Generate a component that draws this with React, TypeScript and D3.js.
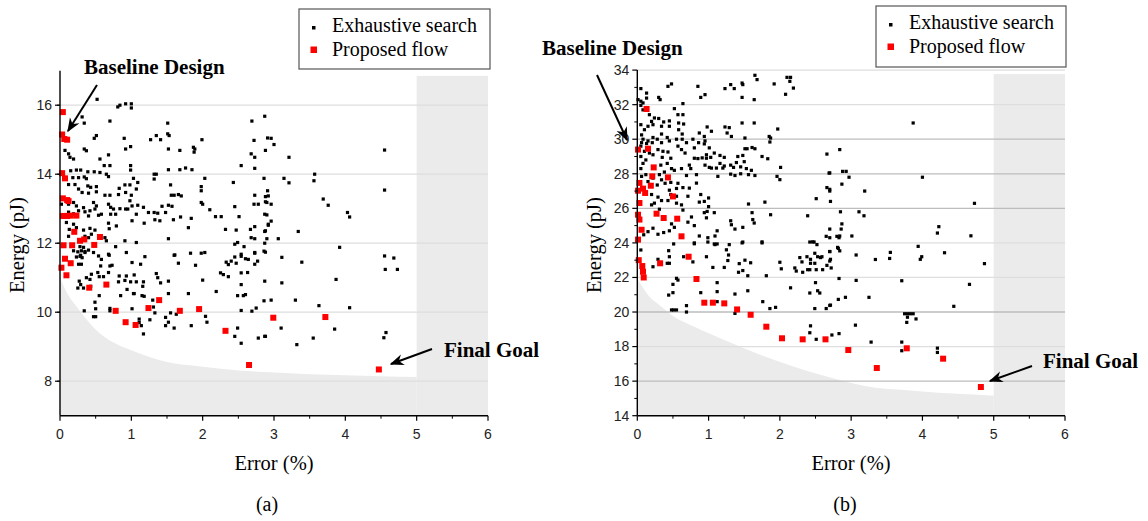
import * as d3 from 'd3';
import React from 'react';

// ---- data: [error (%), energy (pJ)] ----
const xTicks = [0, 1, 2, 3, 4, 5, 6];
const leftYTicks = [8, 10, 12, 14, 16];
const rightYTicks = [14, 16, 18, 20, 22, 24, 26, 28, 30, 32, 34];

// (a) exhaustive search
const leftSearch = [
  [0.52, 16.17], [0.81, 15.95], [0.84, 16.0], [0.92, 16.04], [1.0, 16.04], [1.0, 15.92],
  [0.31, 15.66], [0.34, 15.48], [0.7, 15.54], [1.51, 15.48], [1.51, 15.17], [1.53, 15.12],
  [1.35, 15.12], [1.27, 15.0], [1.41, 15.0], [0.51, 15.12], [0.48, 15.04], [0.9, 15.04], [1.99, 15.0],
  [2.69, 15.54], [2.87, 15.68], [2.72, 14.98], [2.91, 15.05], [2.96, 15.04],
  [0.92, 14.73], [0.99, 14.8], [0.34, 14.73], [0.37, 14.68],
  [0.07, 14.69], [0.12, 14.59], [0.14, 14.49], [0.19, 14.44],
  [1.52, 14.73], [1.68, 14.69], [1.87, 14.78], [1.89, 14.73], [1.88, 14.64], [2.88, 14.69], [2.68, 14.59], [2.73, 14.49],
  [0.56, 14.44], [0.68, 14.56], [0.62, 14.25], [0.7, 14.25], [0.99, 14.25], [0.99, 14.12],
  [1.52, 14.13], [1.68, 14.13], [1.76, 14.18], [1.85, 14.13], [2.54, 14.25], [2.73, 14.17], [2.86, 13.88], [2.43, 13.76], [2.03, 13.88],
  [1.32, 14.0], [1.35, 14.0], [1.32, 13.86],
  [0.15, 14.1], [0.23, 14.12], [0.29, 14.12], [0.39, 14.07], [0.48, 14.07], [0.56, 14.05],
  [0.18, 13.9], [0.26, 13.9], [0.34, 13.92], [0.37, 13.87], [0.65, 14.0], [0.68, 13.93], [1.03, 13.88], [1.09, 13.76],
  [0.91, 13.69], [0.98, 13.69], [0.83, 13.59], [0.92, 13.47], [1.07, 13.57], [1.55, 13.69], [1.98, 13.64], [1.98, 13.52],
  [0.12, 13.7], [0.21, 13.7], [0.39, 13.66], [0.43, 13.62], [0.51, 13.64],
  [0.26, 13.57], [0.31, 13.47], [0.4, 13.45], [0.51, 13.49],
  [0.63, 13.39], [0.7, 13.39], [0.82, 13.41], [1.0, 13.39], [0.98, 13.23],
  [1.56, 13.39], [1.6, 13.39], [1.66, 13.41], [1.7, 13.37], [2.73, 13.39], [2.88, 13.35], [2.91, 13.52],
  [1.98, 13.18], [2.0, 13.13], [2.45, 13.06], [2.72, 13.13], [2.78, 13.13], [2.88, 13.2],
  [0.02, 13.13], [0.12, 13.13], [0.19, 13.18], [0.23, 13.08], [0.33, 13.03],
  [0.47, 13.18], [0.51, 13.08], [0.49, 12.99], [0.68, 13.13], [0.71, 13.04], [0.75, 12.99], [0.84, 13.0], [0.92, 12.99],
  [1.09, 13.1], [1.17, 13.04], [1.24, 12.89], [1.32, 12.89], [1.37, 12.87], [1.43, 13.07], [1.52, 13.1], [1.57, 13.07], [1.48, 12.89],
  [2.1, 12.97], [2.18, 12.77], [2.26, 12.77], [2.51, 12.77], [2.87, 12.84],
  [0.12, 12.9], [0.19, 12.85], [0.26, 12.94], [0.35, 12.91], [0.42, 12.94], [0.4, 12.79],
  [0.54, 12.81], [0.58, 12.84], [0.71, 12.84], [0.78, 12.84], [0.95, 12.99], [1.01, 13.08], [1.01, 12.65], [1.07, 12.84],
  [1.18, 12.58], [1.33, 12.68], [1.4, 12.65], [1.59, 12.68], [1.69, 12.76], [1.84, 12.72], [1.8, 12.45],
  [2.32, 12.4], [2.47, 12.38], [2.67, 12.4], [2.73, 12.48], [2.92, 12.55], [2.68, 12.16], [2.73, 12.13], [2.88, 12.36],
  [0.23, 12.45], [0.33, 12.38], [0.42, 12.43], [0.49, 12.38], [0.09, 12.6], [0.19, 12.55], [0.13, 12.4], [0.12, 12.2],
  [0.35, 12.2], [0.4, 12.16], [0.44, 12.26], [0.68, 12.58], [0.69, 12.42], [0.79, 12.5], [0.63, 12.16], [0.65, 12.07],
  [0.91, 12.07], [1.07, 12.02], [1.52, 12.13], [2.45, 11.97], [2.49, 12.02], [2.58, 11.9], [2.87, 12.0], [2.88, 11.74],
  [0.28, 11.9], [0.33, 11.88], [0.35, 11.73], [0.4, 11.8], [0.29, 11.65], [0.78, 11.9], [0.68, 11.68], [0.93, 11.73],
  [1.61, 11.66], [1.83, 11.71], [2.03, 11.73], [2.54, 11.68], [2.73, 11.73], [2.86, 11.77], [1.19, 11.61],
  [0.19, 11.78], [0.25, 11.75], [0.3, 11.78], [0.35, 11.76], [0.23, 11.6], [0.28, 11.62], [0.31, 11.58],
  [0.47, 11.73], [0.54, 11.63], [0.58, 11.53], [0.69, 11.65], [1.01, 11.44], [1.13, 11.39],
  [0.26, 11.39], [0.3, 11.39], [0.57, 11.34], [0.7, 11.34], [0.73, 11.36], [1.6, 11.65], [1.66, 11.42], [1.9, 11.36], [1.98, 11.71],
  [0.44, 11.1], [0.53, 11.15], [0.55, 11.03], [0.61, 11.03], [0.68, 11.15],
  [0.27, 10.9], [0.29, 10.8], [0.33, 10.7], [0.25, 10.7], [0.37, 11.0], [0.42, 10.95], [0.43, 10.75],
  [0.83, 11.05], [0.93, 11.05], [1.04, 11.08], [0.82, 10.88], [0.91, 10.92], [0.99, 10.88], [1.07, 10.88], [1.17, 10.88],
  [1.16, 10.75], [1.03, 10.54], [1.35, 11.12], [1.37, 11.0], [1.41, 10.85], [1.52, 10.9], [0.94, 10.66], [0.55, 10.48], [0.85, 10.48],
  [1.04, 10.54], [1.15, 10.48], [1.18, 10.46], [1.52, 10.54], [1.8, 10.54], [0.49, 10.29], [1.3, 10.35],
  [0.5, 10.1], [0.34, 10.04], [0.47, 9.87], [0.5, 9.87], [0.7, 10.11], [0.7, 10.04], [1.01, 10.1], [1.31, 10.15], [1.33, 9.98],
  [1.11, 9.8], [1.26, 9.78], [1.11, 9.7], [1.14, 9.61], [1.17, 9.37], [1.48, 9.85], [1.55, 9.98], [1.63, 9.94], [1.48, 9.61], [1.52, 9.71], [1.6, 9.54], [1.84, 9.61],
  [2.0, 10.93], [2.04, 9.88], [2.06, 9.71], [2.19, 10.6], [2.25, 11.14], [2.29, 11.09], [2.36, 11.03],
  [2.33, 11.45], [2.36, 11.38], [2.4, 11.48], [2.47, 11.42], [2.45, 11.6], [2.54, 11.62], [2.6, 11.55], [2.64, 11.53],
  [2.54, 11.14], [2.63, 11.15], [2.73, 11.39], [2.77, 11.48], [2.54, 10.8], [2.49, 10.48], [2.57, 10.48], [2.6, 10.51],
  [2.73, 11.71], [2.87, 10.9], [2.86, 10.33], [2.54, 10.05], [2.69, 10.03], [2.75, 10.12],
  [2.49, 9.54], [2.45, 9.3], [2.54, 9.1], [2.78, 9.25], [2.88, 9.3],
  [3.0, 14.86], [3.21, 14.49], [4.55, 14.7], [3.57, 14.0], [3.56, 13.81], [3.14, 13.88], [3.21, 13.75], [4.55, 13.54],
  [3.69, 13.28], [3.76, 13.1], [2.92, 13.37], [2.96, 13.13], [2.9, 13.18], [4.03, 12.89], [4.06, 12.76],
  [2.9, 12.82], [2.96, 12.64], [2.92, 12.52], [2.87, 12.34], [2.9, 12.13], [3.06, 12.13], [3.34, 12.34], [3.92, 11.88], [3.11, 11.59],
  [4.55, 11.63], [4.68, 11.57], [3.39, 11.45], [4.56, 11.24], [4.73, 11.24], [3.11, 10.85], [3.87, 10.95],
  [2.96, 10.35], [3.3, 10.35], [3.63, 10.19], [4.06, 10.13], [3.1, 9.54], [2.87, 9.3], [3.32, 9.06], [3.55, 9.25], [3.85, 9.51], [4.54, 9.26], [4.57, 9.41],
];

// (a) proposed flow
const leftProposed = [
  [0.04, 15.8], [0.03, 15.15], [0.06, 15.02], [0.1, 15.0], [0.03, 14.03], [0.07, 13.88], [0.04, 13.3], [0.1, 13.25],
  [0.12, 13.22], [0.04, 12.79], [0.1, 12.79], [0.15, 12.8], [0.23, 12.8], [0.2, 12.33], [0.28, 12.07], [0.34, 12.11],
  [0.56, 12.18], [0.05, 11.94], [0.17, 11.94], [0.48, 11.95], [0.07, 11.55], [0.02, 11.29], [0.15, 11.42], [0.09, 11.07],
  [0.41, 10.71], [0.65, 10.8], [0.78, 10.04], [0.92, 9.71], [1.06, 9.63], [1.24, 10.12], [1.39, 10.35], [1.68, 10.04],
  [1.95, 10.09], [2.32, 9.46], [2.65, 8.47], [2.99, 9.84], [3.72, 9.86], [4.47, 8.34],
];

// (a) lower bound of the shaded infeasible region
const leftBoundary = [
  [0, 11.0], [0.1, 10.55], [0.21, 10.22], [0.35, 9.85], [0.54, 9.42], [0.75, 9.12], [1.0, 8.9], [1.47, 8.57],
  [1.94, 8.43], [2.5, 8.31], [2.94, 8.26], [3.5, 8.2], [4.0, 8.17], [4.5, 8.14], [5.0, 8.12],
];

// (b) exhaustive search
const rightSearch = [
  [0.05, 32.93], [0.13, 32.67], [0.13, 32.38], [0.3, 32.42], [0.32, 32.29], [0.43, 33.06], [0.48, 33.2], [0.85, 33.06], [0.95, 32.58], [0.89, 32.42],
  [1.23, 32.93], [1.31, 33.16], [1.36, 32.93], [1.47, 33.25], [1.48, 33.16], [1.47, 32.42], [1.65, 33.7], [1.68, 33.45], [1.64, 32.29],
  [1.92, 33.2], [2.08, 32.6], [2.1, 33.58], [2.15, 33.58], [2.14, 33.35], [2.19, 32.96],
  [0.01, 32.29], [0.05, 32.2], [0.08, 32.1], [0.05, 31.96], [0.64, 32.06], [0.52, 31.77], [0.64, 31.42], [0.57, 31.42], [0.08, 31.7],
  [0.17, 31.42], [0.24, 31.23], [0.2, 31.03], [0.22, 30.84], [0.3, 31.2], [0.37, 31.0], [0.45, 31.06], [0.34, 30.75], [0.45, 30.75],
  [0.05, 30.84], [0.1, 30.55], [0.15, 30.75], [0.58, 30.94], [0.65, 30.88], [0.58, 30.55], [0.63, 30.3], [0.98, 30.71], [1.04, 30.46],
  [0.87, 30.36], [0.94, 30.16], [0.95, 29.9], [1.23, 30.71], [1.29, 30.67], [1.26, 30.36], [1.32, 30.16], [1.47, 30.94], [1.64, 30.94], [1.51, 30.07],
  [1.97, 30.59], [1.85, 30.16], [1.87, 30.07], [1.86, 29.84],
  [0.06, 30.25], [0.08, 30.0], [0.15, 29.9], [0.06, 29.8], [0.13, 29.75], [0.22, 30.1], [0.28, 30.0], [0.21, 29.8], [0.34, 30.3], [0.42, 30.1], [0.34, 29.8],
  [0.45, 29.9], [0.55, 30.0], [0.63, 30.0], [0.69, 29.8], [0.78, 30.0], [0.86, 29.8], [0.8, 29.5], [0.57, 29.6], [0.62, 29.4], [0.67, 29.2],
  [0.94, 29.73], [1.01, 29.5], [0.97, 29.1], [1.03, 28.95], [1.08, 29.2], [1.51, 29.45], [1.54, 29.45], [1.61, 29.52], [1.65, 29.45],
  [1.41, 29.0], [1.48, 29.06], [1.5, 28.7], [1.75, 29.0], [1.83, 28.87], [2.01, 28.37], [2.66, 29.14],
  [0.8, 28.9], [0.85, 28.88], [0.91, 28.92], [0.97, 28.9], [1.16, 29.06], [1.22, 28.95], [1.16, 28.6], [1.22, 28.45], [1.31, 28.5], [1.35, 28.37], [1.39, 28.65],
  [1.11, 28.33], [1.2, 28.33], [1.04, 28.33], [0.95, 28.5], [1.01, 28.37], [1.13, 27.85], [1.37, 27.9], [1.31, 27.98],
  [1.45, 28.4], [1.53, 28.3], [1.56, 27.95], [1.65, 27.9], [1.6, 28.2], [1.45, 28.0], [1.96, 27.85], [2.0, 27.66], [2.69, 28.04],
  [0.73, 28.5], [0.62, 28.3], [0.75, 28.3], [0.83, 27.95], [0.69, 27.9],
  [0.05, 29.6], [0.1, 29.3], [0.05, 29.0], [0.08, 28.6], [0.12, 28.8], [0.05, 28.3], [0.17, 29.2], [0.22, 29.1],
  [0.29, 29.4], [0.36, 29.3], [0.43, 29.26], [0.35, 28.95], [0.47, 28.9], [0.42, 28.6], [0.33, 28.5],
  [0.48, 28.3], [0.52, 28.2], [0.38, 28.1], [0.31, 27.95], [0.06, 27.85], [0.12, 27.95], [0.22, 27.75], [0.34, 27.65], [0.39, 27.45], [0.28, 27.35], [0.15, 27.55],
  [0.47, 27.5], [0.57, 27.45], [0.55, 27.15], [0.64, 27.2], [0.73, 27.17], [0.83, 27.46],
  [0.45, 27.05], [0.47, 26.8], [0.55, 26.7], [0.43, 26.45], [0.2, 26.8], [0.29, 26.65], [0.34, 26.45], [0.24, 26.3], [0.2, 26.2], [0.31, 25.95],
  [0.55, 26.3], [0.62, 26.2], [0.71, 26.7], [0.87, 26.36], [0.64, 25.9], [1.0, 26.6], [0.94, 26.4], [1.0, 26.1], [0.89, 26.8],
  [1.56, 26.25], [1.79, 26.36], [1.87, 25.63], [2.51, 26.56], [2.66, 27.2], [2.7, 27.1], [2.71, 26.4],
  [0.94, 25.75], [0.98, 25.82], [1.08, 25.75], [0.97, 25.45], [1.61, 25.75], [1.62, 25.35], [1.64, 25.15], [1.31, 25.28], [1.32, 25.05], [1.48, 24.9], [1.48, 24.05], [2.39, 25.57],
  [0.76, 25.5], [0.8, 25.0], [0.71, 25.2], [0.48, 25.1], [0.52, 24.9], [0.45, 24.7], [0.37, 24.6], [0.29, 24.5], [0.22, 24.85], [0.15, 24.65], [0.09, 24.47],
  [0.87, 24.4], [0.99, 24.3], [1.12, 24.7], [1.09, 24.4], [1.37, 24.8], [1.29, 23.9], [0.8, 24.0], [1.09, 23.9], [1.75, 24.06], [2.46, 24.06], [2.52, 23.9],
  [2.65, 24.38], [2.7, 24.3], [2.8, 24.38],
  [0.05, 23.59], [0.22, 22.62], [0.29, 23.05], [0.42, 22.82], [0.45, 22.82], [0.45, 23.2], [0.44, 23.55], [0.51, 23.94],
  [0.55, 21.95], [0.57, 21.85], [0.5, 21.6], [0.44, 20.98], [0.5, 21.12], [0.48, 20.12], [0.51, 20.12], [0.55, 20.12], [0.69, 20.37], [0.69, 20.0],
  [0.65, 23.2], [0.78, 22.9], [0.8, 23.95], [0.99, 24.05], [0.89, 21.12], [0.97, 23.2], [1.06, 22.58], [1.08, 23.94], [1.12, 23.94],
  [1.12, 21.7], [1.12, 21.18], [1.12, 20.6], [1.22, 22.58], [1.25, 23.6], [1.28, 23.3], [1.27, 22.98], [1.37, 21.04], [1.37, 19.92],
  [1.43, 22.8], [1.42, 22.3], [1.48, 22.4], [1.51, 23.0], [1.59, 22.85], [1.55, 22.1], [1.55, 21.23], [1.47, 24.0], [1.75, 24.0],
  [1.76, 20.6], [1.86, 20.2], [1.94, 20.27], [1.81, 22.1], [2.0, 22.88], [2.02, 22.5], [2.15, 21.4], [2.21, 22.55], [2.23, 22.37], [2.32, 22.3],
  [2.28, 23.15], [2.31, 22.9], [2.38, 23.2], [2.43, 23.05], [2.43, 22.82], [2.39, 22.45], [2.42, 22.45],
  [2.49, 23.4], [2.53, 23.2], [2.57, 23.15], [2.59, 23.2], [2.49, 22.82], [2.51, 22.45], [2.6, 22.45],
  [2.5, 21.7], [2.42, 21.1], [2.53, 21.23], [2.56, 21.1], [2.49, 20.2], [2.43, 19.2], [2.42, 18.8], [2.51, 18.42], [2.73, 18.67],
  [2.65, 20.2], [2.71, 20.4], [2.42, 24.05], [2.48, 24.05], [2.66, 22.7], [2.7, 22.95], [2.7, 23.5], [2.72, 22.55],
  [3.87, 30.94], [2.84, 29.4], [2.88, 28.14], [2.93, 28.14], [2.97, 27.8], [4.0, 27.8], [2.87, 27.4], [2.7, 28.05], [2.7, 27.0], [3.19, 27.0], [4.73, 26.29],
  [2.85, 25.8], [3.11, 25.8], [3.18, 25.57], [2.87, 25.1], [2.86, 24.8], [2.84, 24.4], [2.83, 24.3], [3.01, 24.4], [2.7, 24.8],
  [4.23, 24.94], [4.21, 24.57], [4.68, 24.41], [3.94, 23.8], [2.81, 23.74],
  [2.82, 23.68], [2.84, 23.54], [2.7, 23.5], [2.71, 23.05], [3.07, 23.3], [3.34, 23.04], [3.54, 23.1], [3.55, 23.45], [3.97, 23.05], [3.99, 23.2], [4.31, 23.43], [4.87, 22.8],
  [2.83, 21.94], [3.07, 21.83], [3.71, 21.81], [4.66, 21.6], [2.7, 20.38], [2.82, 20.73], [2.92, 20.85], [3.25, 20.85], [4.44, 20.33],
  [3.75, 19.9], [3.79, 19.9], [3.83, 19.9], [3.87, 19.9], [3.79, 19.7], [3.78, 19.4], [3.91, 19.6], [3.06, 19.24], [2.83, 18.75],
  [3.28, 18.26], [3.71, 18.26], [3.71, 17.76], [4.21, 17.91], [4.21, 17.66],
];

// (b) proposed flow
const rightProposed = [
  [0.13, 31.75], [0.01, 29.4], [0.15, 29.45], [0.23, 28.37], [0.21, 27.85], [0.43, 27.79], [0.03, 27.47], [0.19, 27.31],
  [0.08, 27.14], [0.11, 26.89], [0.01, 27.02], [0.5, 26.69], [0.03, 26.31], [0.01, 25.63], [0.03, 25.35], [0.27, 25.69],
  [0.37, 25.44], [0.56, 25.4], [0.06, 24.76], [0.01, 24.19], [0.62, 24.38],
  [0.02, 23.0], [0.07, 22.66], [0.08, 22.33], [0.09, 22.0], [0.32, 22.82], [0.72, 23.2], [0.83, 21.91],
  [0.94, 20.54], [1.06, 20.54], [1.22, 20.5], [1.4, 20.15], [1.59, 19.84], [1.81, 19.15], [2.03, 18.48],
  [2.32, 18.42], [2.64, 18.42], [2.96, 17.8], [3.36, 16.76], [3.78, 17.9], [4.29, 17.3], [4.82, 15.66],
];

// (b) lower bound of the shaded infeasible region
const rightBoundary = [
  [0, 21.95], [0.15, 20.98], [0.34, 20.3], [0.48, 19.83], [0.8, 19.15], [1.22, 18.38], [1.74, 17.5],
  [2.2, 16.83], [2.81, 16.1], [3.17, 15.74], [3.87, 15.45], [4.57, 15.25], [5.0, 15.16],
];

const serif = '"Liberation Serif", "Times New Roman", serif';
const sans = '"Liberation Sans", Arial, sans-serif';
const shade = '#ebebeb';

function Panel(props) {
  const {
    left, right, yDomain, yTop, search, proposed, boundary, yTicks, labelTicks,
    shadeTop, darkGrid, titleX, captionX, caption, yTitleX,
  } = props;
  const bottom = 415.7;
  const x = d3.scaleLinear().domain([0, 6]).range([left, right]);
  const y = d3.scaleLinear().domain(yDomain).range([bottom, yTop]);

  const area = d3
    .area()
    .x(d => x(d[0]))
    .y0(bottom)
    .y1(d => y(d[1]))
    .curve(d3.curveMonotoneX);

  const minorY = d3.range(yDomain[0] + 1, yDomain[1], 2);
  const minorX = d3.range(0.5, 6, 1);

  return (
    <g>
      {/* infeasible regions */}
      <path d={area(boundary)} fill={shade} />
      <rect x={x(5)} y={y(shadeTop)} width={x(6) - x(5)} height={bottom - y(shadeTop)} fill={shade} />

      {/* grid */}
      {yTicks.filter(t => t > yDomain[0]).map(t => (
        <line key={'g' + t} x1={x(0)} x2={x(6)} y1={y(t)} y2={y(t)}
          stroke={darkGrid.includes(t) ? '#bdbdbd' : '#dedede'} strokeWidth={1.3} />
      ))}

      {/* points */}
      {search.map((d, i) => (
        <rect key={'s' + i} x={x(d[0]) - 1.6} y={y(d[1]) - 1.6} width={3.2} height={3.2} fill="#000" />
      ))}
      {proposed.map((d, i) => (
        <rect key={'p' + i} x={x(d[0]) - 3} y={y(d[1]) - 3} width={6} height={6} fill="#ff0000" />
      ))}

      {/* axes */}
      <line x1={x(0)} x2={x(0)} y1={yTop} y2={bottom} stroke="#000" strokeWidth={1.4} />
      <line x1={x(0)} x2={x(6)} y1={bottom} y2={bottom} stroke="#000" strokeWidth={1.4} />
      {yTicks.map(t => (
        <line key={'yt' + t} x1={x(0) - 5} x2={x(0)} y1={y(t)} y2={y(t)} stroke="#000" strokeWidth={1.2} />
      ))}
      {minorY.map(t => (
        <line key={'ym' + t} x1={x(0) - 3} x2={x(0)} y1={y(t)} y2={y(t)} stroke="#000" strokeWidth={1} />
      ))}
      {labelTicks.map(t => (
        <text key={'yl' + t} x={x(0) - 8} y={y(t)} dy="0.35em" textAnchor="end"
          fontFamily={sans} fontSize={14} fill="#222">{t}</text>
      ))}
      {xTicks.map(t => (
        <g key={'xt' + t}>
          <line x1={x(t)} x2={x(t)} y1={bottom} y2={bottom + 5} stroke="#000" strokeWidth={1.2} />
          <text x={x(t)} y={bottom + 23} textAnchor="middle" fontFamily={sans} fontSize={14} fill="#222">{t}</text>
        </g>
      ))}
      {minorX.map(t => (
        <line key={'xm' + t} x1={x(t)} x2={x(t)} y1={bottom} y2={bottom + 3} stroke="#000" strokeWidth={1} />
      ))}

      {/* titles */}
      <text x={titleX} y={470} textAnchor="middle" fontFamily={serif} fontSize={20.5}>Error (%)</text>
      <text transform={`translate(${yTitleX},245) rotate(-90)`} textAnchor="middle" fontFamily={serif} fontSize={20.5}>
        Energy (pJ)
      </text>
      <text x={captionX} y={511} textAnchor="middle" fontFamily={serif} fontSize={20}>{caption}</text>
    </g>
  );
}

function Legend({ x0, y0, w, h }) {
  return (
    <g>
      <rect x={x0} y={y0} width={w} height={h} fill="#fff" stroke="#555" strokeWidth={1.2} />
      <rect x={x0 + 13} y={y0 + 17} width={3.5} height={3.5} fill="#000" />
      <text x={x0 + 33} y={y0 + 23} fontFamily={serif} fontSize={20}>Exhaustive search</text>
      <rect x={x0 + 11.5} y={y0 + 37.5} width={6.5} height={6.5} fill="#ff0000" />
      <text x={x0 + 33} y={y0 + 47} fontFamily={serif} fontSize={20}>Proposed flow</text>
    </g>
  );
}

export default function App() {
  return (
    <svg width={1148} height={521}
      style={{ display: 'block', position: 'absolute', left: 0, top: 0, background: '#fff' }}>
      <defs>
        <marker id="ah" viewBox="0 0 10 10" refX={9} refY={5} markerWidth={7} markerHeight={7} orient="auto">
          <path d="M0,1 L10,5 L0,9 L3,5 Z" fill="#000" />
        </marker>
      </defs>

      <Panel
        left={60} right={488} yDomain={[7, 17]} yTop={70.7}
        search={leftSearch} proposed={leftProposed} boundary={leftBoundary}
        yTicks={[8, 10, 12, 14, 16]} labelTicks={leftYTicks} shadeTop={16.85}
        darkGrid={[]} titleX={274} captionX={267} caption="(a)" yTitleX={24}
      />
      <Panel
        left={637.3} right={1065} yDomain={[14, 34]} yTop={70.1}
        search={rightSearch} proposed={rightProposed} boundary={rightBoundary}
        yTicks={rightYTicks} labelTicks={rightYTicks} shadeTop={33.77}
        darkGrid={[16, 20, 26, 28, 30]} titleX={851} captionX={845} caption="(b)" yTitleX={601}
      />

      <Legend x0={299} y0={9} w={191} h={60} />
      <Legend x0={876} y0={6} w={190} h={61} />

      {/* annotations */}
      <text x={84} y={74} fontFamily={serif} fontWeight="bold" fontSize={21}>Baseline Design</text>
      <line x1={97} y1={85} x2={68} y2={131} stroke="#000" strokeWidth={2} markerEnd="url(#ah)" />
      <text x={444} y={357} fontFamily={serif} fontWeight="bold" fontSize={21}>Final Goal</text>
      <line x1={432} y1={349} x2={391} y2={364} stroke="#000" strokeWidth={2} markerEnd="url(#ah)" />

      <text x={542} y={55} fontFamily={serif} fontWeight="bold" fontSize={21}>Baseline Design</text>
      <line x1={597} y1={75} x2={627} y2={140} stroke="#000" strokeWidth={2} markerEnd="url(#ah)" />
      <text x={1043} y={368} fontFamily={serif} fontWeight="bold" fontSize={21}>Final Goal</text>
      <line x1={1032} y1={366} x2={990} y2={381} stroke="#000" strokeWidth={2} markerEnd="url(#ah)" />
    </svg>
  );
}
